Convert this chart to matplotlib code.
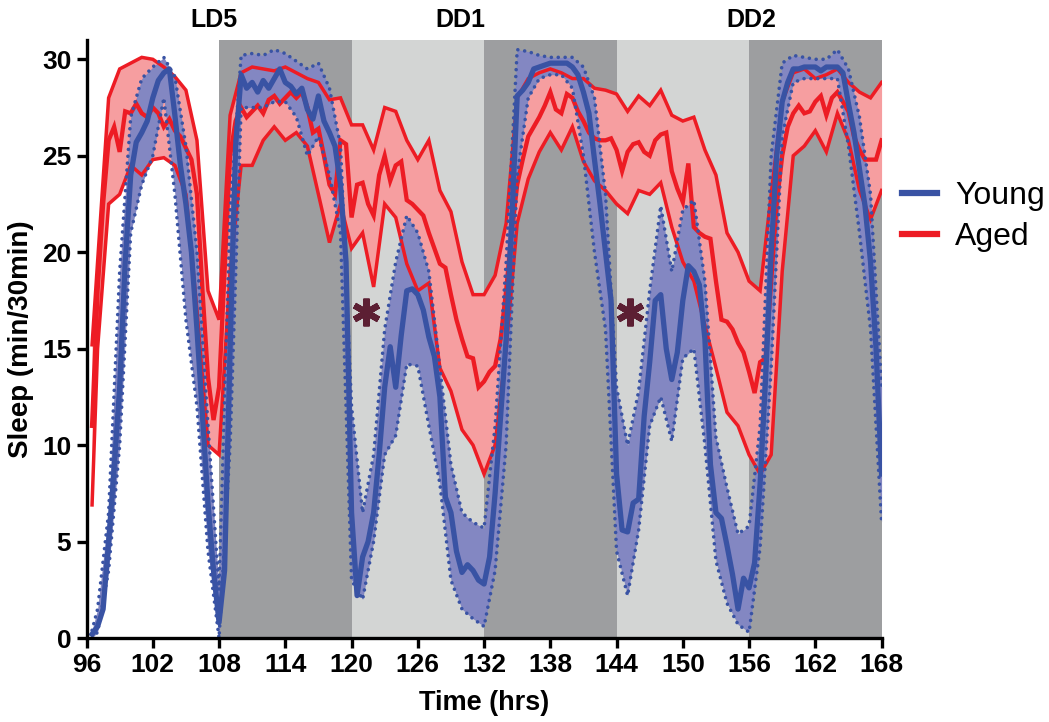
import numpy as np
import matplotlib
matplotlib.use("Agg")
import matplotlib.pyplot as plt
from matplotlib import font_manager
from matplotlib.lines import Line2D

# ---------------- data ----------------
# half-hourly means, 96.5 .. 168.0 h
young_mean = [
    0.2, 0.6, 1.5, 5.0, 8.8, 13.0, 19.5,
    24.0, 25.7, 26.2, 26.8, 28.0, 28.9, 29.3, 29.5, 27.1, 24.5, 22.5, 20.0,
    16.0, 11.5, 7.0, 3.5, 0.8, 3.5, 15.0, 25.5, 29.2, 28.5, 28.8, 28.3,
    28.9, 28.5, 29.0, 29.5, 28.8, 28.6, 28.2, 28.5, 27.4, 26.9, 28.1, 26.8,
    26.2, 25.5, 23.5, 19.5, 6.5, 2.2, 4.2, 5.0, 6.5, 9.5, 13.0, 15.1,
    13.0, 15.7, 18.0, 18.1, 17.8, 17.0, 15.6, 14.6, 12.5, 7.3, 6.5, 4.5,
    3.4, 3.8, 3.5, 3.0, 2.8, 4.2, 7.5, 11.5, 15.5, 21.5, 28.1, 28.4,
    28.8, 29.5, 29.6, 29.7, 29.8, 29.8, 29.8, 29.8, 29.6, 29.2, 28.3, 27.2,
    24.8, 22.5, 20.0, 17.5, 8.5, 5.6, 5.5, 7.0, 7.2, 11.5, 14.3, 17.5,
    17.8, 15.0, 13.4, 14.8, 17.5, 19.3, 19.0, 18.3, 15.5, 9.0, 6.5, 6.2,
    4.8, 3.3, 1.5, 3.1, 2.6, 3.9, 8.0, 13.5, 20.0, 25.0, 27.8, 28.8,
    29.5, 29.5, 29.6, 29.6, 29.6, 29.4, 29.6, 29.6, 29.6, 29.3, 27.7, 26.2,
    24.3, 22.4, 19.5, 15.0, 8.5,
]
aged_mean = [
    11.0, 18.0, 22.5, 25.8, 26.5, 25.2, 27.3,
    27.2, 27.7, 27.2, 27.0, 27.5, 27.2, 26.5, 26.9, 26.3, 26.0, 25.4, 24.8,
    23.0, 18.0, 13.5, 11.3, 13.0, 19.0, 25.0, 26.8, 27.5, 27.0, 27.3, 27.6,
    27.2, 27.9, 28.1, 27.7, 28.0, 28.3, 28.0, 28.3, 27.5, 26.2, 26.4, 25.0,
    23.5, 23.0, 25.8, 25.6, 21.8, 23.5, 23.6, 22.5, 21.9, 24.0, 25.0, 23.7,
    24.5, 24.7, 22.7, 22.5, 22.2, 21.9, 21.0, 20.2, 19.4, 19.2, 17.8, 16.5,
    15.5, 14.6, 14.5, 13.0, 13.3, 13.8, 14.1, 15.5, 18.0, 21.0, 23.5, 24.8,
    26.0, 26.5, 27.0, 27.6, 28.3, 27.4, 27.2, 28.2, 28.0, 27.3, 26.8, 26.2,
    25.9, 25.8, 25.8, 25.9, 25.3, 24.2, 25.2, 25.6, 25.7, 25.2, 25.0, 25.8,
    26.1, 26.2, 24.2, 23.3, 22.6, 24.6, 21.3, 21.0, 20.8, 20.7, 18.5, 16.5,
    16.4, 16.0, 15.3, 14.8, 13.8, 12.7, 14.3, 14.5, 18.5, 22.5, 25.0, 26.5,
    27.2, 27.6, 27.2, 27.3, 27.8, 28.1, 27.1, 28.0, 28.3, 27.8, 27.3, 26.0,
    25.3, 24.8, 24.8, 24.8, 25.8,
]
# hourly error bounds, 96.5, 97 .. 168 h
young_lo = [
    0.0, 0.3, 3.5, 10.0, 21.0, 23.5,
    25.0, 28.0, 23.0, 16.5, 12.0, 4.5,
    0.0, 10.0, 27.5, 27.5, 27.5, 27.8,
    27.8, 27.0, 25.0, 26.0, 24.0, 21.0,
    3.0, 2.0, 5.0, 9.5, 10.5, 14.2,
    14.1, 11.0, 8.0, 3.0, 1.5, 1.0,
    0.6, 3.5, 10.0, 24.0, 28.0, 29.0,
    29.2, 29.2, 28.5, 25.0, 20.0, 16.0,
    4.5, 2.2, 5.6, 11.0, 12.5, 10.2,
    14.5, 15.0, 10.0, 4.0, 1.8, 0.7,
    0.3, 4.7, 14.0, 26.0, 28.8, 29.0,
    29.0, 29.0, 29.0, 25.5, 21.0, 16.0,
    6.0,
]
young_hi = [
    0.4, 1.5, 6.5, 19.0, 27.0, 29.0,
    29.6, 30.1, 29.1, 25.5, 20.0, 11.0,
    2.5, 22.0, 30.2, 30.3, 30.2, 30.5,
    30.3, 29.9, 29.5, 29.8, 28.5, 25.5,
    12.0, 6.5, 9.5, 16.0, 19.5, 21.9,
    21.0, 19.0, 14.0, 9.0, 6.5, 6.0,
    5.7, 11.0, 19.5, 30.5, 30.4, 30.2,
    30.1, 30.1, 30.1, 29.6, 28.0, 23.0,
    13.0, 10.0, 12.8, 18.0, 22.4, 19.0,
    22.2, 22.7, 18.5, 10.4, 7.8, 5.4,
    5.8, 11.0, 25.0, 29.8, 30.2, 30.1,
    30.0, 30.0, 30.5, 29.5, 27.0, 23.0,
    13.0,
]
aged_lo = [
    6.9, 15.0, 22.5, 23.0, 24.5, 24.0,
    24.8, 24.9, 24.5, 23.0, 17.0, 10.0,
    9.5, 19.0, 24.5, 24.5, 25.8, 26.5,
    25.8, 26.2, 25.5, 23.0, 20.5, 22.5,
    20.2, 21.0, 18.2, 22.5, 21.8, 19.4,
    18.0, 18.4, 14.0, 12.8, 10.8, 10.0,
    8.5, 10.0, 15.0, 21.5, 23.8, 25.2,
    26.2, 25.3, 26.5, 24.7, 23.7, 23.2,
    22.5, 22.0, 23.2, 23.0, 23.6, 21.3,
    19.5, 18.5, 16.2, 14.0, 11.7, 11.0,
    9.5, 8.5, 9.5, 19.0, 25.0, 25.5,
    26.3, 25.2, 27.2, 25.8, 23.2, 21.7,
    23.2,
]
aged_hi = [
    15.2, 19.5, 28.0, 29.5, 29.8, 30.1,
    30.0, 29.6, 29.1, 28.4, 25.8, 18.0,
    16.5, 27.1, 29.3, 29.6, 29.5, 29.4,
    29.6, 29.3, 29.0, 28.8, 27.9, 28.0,
    26.6, 26.6, 25.3, 27.5, 27.3, 25.8,
    24.8, 25.8, 23.2, 22.1, 19.5, 17.8,
    17.8, 18.8, 21.5, 28.0, 29.0, 29.3,
    29.5, 29.3, 29.0, 29.0, 28.5, 28.4,
    28.2, 27.3, 28.1, 27.6, 28.4, 27.1,
    26.8, 27.0, 25.3, 24.0, 21.0, 20.0,
    18.5, 18.0, 23.0, 27.8, 29.3, 29.5,
    29.0, 29.2, 29.5, 28.8, 28.3, 28.0,
    28.8,
]
t_half = np.arange(96.5, 168.01, 0.5)
t_hour = np.array([96.5] + list(range(97, 169)), dtype=float)

dark_periods = [(108, 120), (132, 144), (156, 168)]
light_periods = [(120, 132), (144, 156)]
phase_labels = ["LD5", "DD1", "DD2"]
phase_label_x = [107.5, 129.9, 156.2]
star_x = [121.3, 145.2]
star_y = [16.9, 16.9]
x_ticks = list(range(96, 169, 6))
y_ticks = [0, 5, 10, 15, 20, 25, 30]

# ---------------- style ----------------
names = {f.name for f in font_manager.fontManager.ttflist}
narrow = "Liberation Sans Narrow" if "Liberation Sans Narrow" in names else "Liberation Sans"
plt.rcParams["font.family"] = ["Liberation Sans", "DejaVu Sans"]

BLUE = "#3953a4"
BLUE_FILL = "#8387c2"
RED = "#ed1c24"
RED_FILL = "#f69ea0"
DARK = "#9d9ea0"
LIGHT = "#d3d5d4"

fig = plt.figure(figsize=(10.49, 7.22), dpi=100)
ax = fig.add_axes([0.0825, 0.1163, 0.7579, 0.8283])
ax.set_xlim(96, 168)
ax.set_ylim(0, 31)

for a, b in dark_periods:
    ax.axvspan(a, b, color=DARK, lw=0, zorder=0)
for a, b in light_periods:
    ax.axvspan(a, b, color=LIGHT, lw=0, zorder=0)

ax.fill_between(t_hour, aged_lo, aged_hi, color=RED_FILL, lw=0, zorder=1)
ax.fill_between(t_hour, young_lo, young_hi, color=BLUE_FILL, lw=0, zorder=2)

ax.plot(t_hour, aged_lo, color=RED, lw=2.5, zorder=3, solid_joinstyle="miter")
ax.plot(t_hour, aged_hi, color=RED, lw=2.5, zorder=3, solid_joinstyle="miter")
ax.plot(t_half, aged_mean, color=RED, lw=3.1, zorder=3, solid_joinstyle="miter")

for arr in (young_lo, young_hi):
    ax.plot(t_hour, arr, color=BLUE, lw=2.6, linestyle=(0, (0.01, 1.9)),
            dash_capstyle="round", zorder=4)
ax.plot(t_half, young_mean, color=BLUE, lw=3.8, zorder=5, solid_joinstyle="round")

ax.plot(star_x, star_y, linestyle="none", marker=(6, 2, 0), markersize=20,
        markeredgewidth=4.5, color="#5c1f33", zorder=6)

for lab, x in zip(phase_labels, phase_label_x):
    ax.text(x, 1.033, lab, transform=ax.get_xaxis_transform(), ha="center",
            va="center", fontsize=18, fontweight="bold")

for s in ("top", "right"):
    ax.spines[s].set_visible(False)
for s in ("left", "bottom"):
    ax.spines[s].set_linewidth(2.4)
    ax.spines[s].set_zorder(7)

ax.set_xticks(x_ticks)
ax.set_yticks(y_ticks)
ax.tick_params(axis="both", direction="out", length=7, width=2.4, pad=4)
for lab in ax.get_xticklabels() + ax.get_yticklabels():
    lab.set_fontfamily(narrow)
    lab.set_fontweight("bold")
    lab.set_fontsize(19)

ax.set_xlabel("Time (hrs)", fontsize=19.5, fontweight="bold", labelpad=9)
ax.set_ylabel("Sleep (min/30min)", fontsize=20, fontweight="bold", labelpad=6)

handles = [Line2D([], [], color=BLUE, lw=4.5), Line2D([], [], color=RED, lw=4.5)]
fig.legend(handles, ["Young", "Aged"], loc="center left",
           bbox_to_anchor=(0.86, 0.7), frameon=False, fontsize=23,
           handlelength=1.1, handletextpad=0.55, labelspacing=0.35,
           borderpad=0, borderaxespad=0)

fig.savefig("out.png", dpi=100)
